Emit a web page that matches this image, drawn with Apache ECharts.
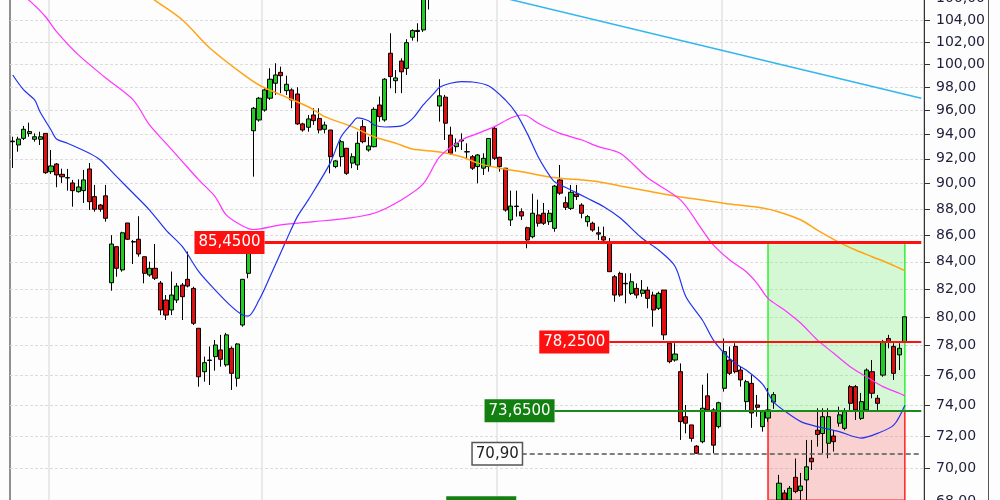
<!DOCTYPE html>
<html><head><meta charset="utf-8">
<script src="https://cdn.jsdelivr.net/npm/echarts@6/dist/echarts.min.js"></script>
<style>html,body{margin:0;padding:0;background:#fff}#c{width:1000px;height:500px}</style>
</head><body><div id="c"></div>
<script>
// Daily candles: [open, high, low, close]
const ohlc = [
[93.45,93.81,91.26,93.40],[93.13,93.81,92.58,93.62],[93.68,94.71,93.54,94.43],[94.08,94.98,93.81,94.24],
[93.60,94.09,93.40,93.81],[93.60,94.23,93.13,93.81],[94.09,94.09,90.78,90.88],[90.96,92.72,90.78,91.42],
[91.58,91.66,89.72,90.70],[90.75,91.20,90.06,90.55],[90.48,91.18,89.45,90.46],[90.06,90.30,88.19,89.45],
[89.37,90.35,89.29,89.74],[89.45,91.10,88.48,90.30],[91.18,91.66,87.93,88.58],[88.98,89.90,87.80,87.99],
[88.32,88.40,87.80,87.99],[89.04,89.90,87.03,87.29],[82.46,86.00,81.88,85.33],[85.13,85.13,82.90,83.52],
[83.40,86.26,83.27,86.18],[86.93,86.93,85.63,85.69],[85.51,85.63,83.84,85.48],[85.69,87.45,84.38,84.58],
[84.38,84.38,82.42,83.15],[83.03,84.01,82.90,83.52],[83.52,85.33,82.66,82.79],[82.44,82.59,80.14,80.50],
[81.21,81.57,79.79,80.14],[80.50,83.28,80.14,81.57],[81.21,82.44,81.00,82.22],[82.29,82.44,79.79,81.45],
[82.71,84.76,82.12,82.22],[82.05,82.17,79.44,79.56],[79.21,79.21,75.23,75.89],[76.23,77.25,75.56,76.84],
[77.02,77.95,75.34,76.99],[77.25,78.40,76.30,78.05],[77.71,78.75,76.57,77.07],[76.69,78.89,76.57,78.75],
[77.82,77.95,75.01,76.12],[75.79,78.17,75.23,78.12],[79.44,82.73,79.32,82.71],[83.15,86.24,82.79,84.64],
[94.31,96.31,90.56,96.20],[95.21,97.17,95.07,97.06],[96.05,97.91,95.91,97.77],[97.06,99.66,96.91,98.70],
[98.35,100.10,97.34,99.07],[99.30,99.80,97.49,99.01],[97.71,99.01,97.34,98.26],[97.77,97.91,96.20,96.91],
[97.42,98.00,94.80,94.88],[94.88,94.98,94.23,94.37],[94.60,95.63,94.23,95.30],[95.63,96.20,94.80,95.15],
[95.34,96.20,94.09,94.37],[94.43,95.07,94.09,94.79],[94.37,94.37,90.83,92.17],[91.37,91.90,91.24,91.83],
[92.17,93.54,91.37,93.40],[92.86,92.86,90.70,90.83],[91.65,92.45,91.24,92.17],[91.51,94.23,91.10,93.27],
[94.65,95.21,93.27,93.40],[92.72,93.81,92.58,93.05],[92.99,96.28,92.94,96.11],[96.48,97.20,95.07,95.49],
[95.21,98.79,95.07,98.70],[100.99,102.79,97.91,98.93],[98.57,99.50,97.49,98.81],[100.30,100.54,97.49,99.35],
[99.65,102.25,99.07,101.94],[102.43,103.15,102.12,103.03],[103.05,103.70,102.03,102.95],[103.09,106.30,102.90,106.00],
[106.20,108.50,104.97,108.00],[107.80,108.60,106.20,106.50],[96.39,98.70,95.07,97.26],[97.15,97.34,93.54,94.94],
[93.95,94.65,92.31,92.45],[92.99,93.67,92.58,93.27],[93.54,94.09,92.72,93.46],[92.58,93.27,92.04,92.56],
[92.17,92.31,91.10,91.24],[91.37,92.39,90.03,92.31],[91.24,92.45,90.70,92.04],[91.37,93.67,90.96,93.67],
[94.51,94.71,91.90,92.04],[92.12,92.17,90.96,91.37],[91.24,91.24,87.80,87.93],[87.16,89.45,86.70,88.24],
[88.24,89.45,87.42,88.20],[87.80,88.06,87.16,87.47],[86.57,86.65,85.01,85.63],[85.88,89.21,85.76,87.68],
[87.55,88.74,86.65,86.91],[87.68,88.48,86.78,86.91],[87.03,87.93,86.78,87.68],[86.52,89.90,86.26,89.81],
[90.30,91.50,89.12,89.25],[88.50,88.98,87.93,88.14],[88.06,89.90,87.93,89.32],[89.17,89.90,88.72,88.98],
[88.32,88.46,87.29,87.68],[87.03,87.55,86.65,87.42],[86.91,87.03,86.26,86.39],[86.18,86.65,85.63,86.08],
[85.88,86.65,85.40,85.63],[85.51,85.79,83.27,83.27],[82.90,83.03,81.09,81.57],[83.15,83.27,81.45,81.57],
[82.42,83.15,80.97,82.38],[81.69,83.15,81.57,82.53],[82.05,82.42,81.33,81.57],[81.69,82.66,81.45,81.93],
[81.93,82.17,80.62,81.33],[81.57,81.81,79.32,80.50],[80.62,81.81,80.50,81.69],[81.93,81.93,78.40,78.75],
[78.17,78.28,76.80,76.91],[77.02,78.17,76.91,77.43],[76.23,76.79,71.77,72.94],[73.26,74.02,72.19,72.84],
[72.73,72.73,71.66,71.87],[71.38,71.44,70.89,70.93],[71.66,75.36,71.56,73.81],[74.62,76.12,73.59,73.70],
[73.70,73.81,70.93,71.44],[72.62,74.24,72.51,74.17],[75.12,78.50,74.90,77.59],[77.02,77.95,76.00,76.12],
[77.95,78.17,76.12,76.23],[76.34,76.57,75.23,75.68],[74.24,75.68,73.70,75.56],[75.45,76.00,72.54,73.50],
[74.02,74.68,73.26,73.87],[72.62,73.70,72.30,73.59],[73.17,75.14,72.94,73.70],[74.21,74.87,73.77,74.70],
[68.06,69.59,67.77,69.08],[68.49,68.67,67.50,68.06],[68.06,68.91,67.77,68.77],[69.44,70.60,68.47,68.57],
[68.63,69.71,68.06,68.91],[69.28,71.77,68.06,70.09],[70.62,71.77,69.89,70.40],[72.39,73.81,71.35,72.12],
[72.18,73.81,70.93,73.26],[71.56,73.81,70.62,73.26],[72.02,72.39,71.04,71.66],[72.84,73.91,72.62,73.38],
[72.51,73.81,72.39,73.59],[75.23,75.34,73.70,74.13],[75.23,75.34,73.05,73.70],[73.15,74.81,73.05,74.24],
[73.70,76.45,73.59,76.34],[76.23,77.02,74.46,74.79],[74.46,74.68,73.70,74.13],[76.00,78.40,75.89,78.28],
[78.50,78.75,77.82,78.28],[77.95,78.17,75.68,76.12],[77.37,78.17,76.34,77.82],[78.28,80.02,78.28,80.02]
];
const emptySlots = 3;

// Moving averages: [candle index, value]
const maBlue = [[0,99.07],[2,97.77],[4,96.91],[5,95.88],[7,94.37],[8,93.62],[10,93.27],[14,92.45],[16,91.90],[19,90.56],
[22,89.24],[25,87.93],[28,86.39],[31,85.13],[34,83.27],[37,81.93],[40,80.74],[42,80.14],[43,80.07],[45,81.21],[47,82.90],
[50,85.63],[52,87.42],[54,88.72],[58,91.65],[60,93.81],[62,94.94],[63,95.38],[65,95.14],[66,94.79],[68,94.62],[71,94.71],
[73,95.30],[75,96.48],[77,97.49],[78,98.00],[80,98.35],[82,98.49],[84,98.46],[87,98.11],[90,96.91],[92,95.77],[94,94.09],
[96,92.17],[98,90.70],[99,90.16],[102,89.50],[105,88.85],[108,88.19],[111,87.31],[115,85.76],[118,84.88],[121,83.67],
[123,81.45],[126,79.79],[128,78.40],[130,77.48],[132,76.80],[134,76.34],[137,75.40],[139,74.22],[141,73.64],[144,72.94],
[147,72.62],[151,72.30],[155,71.89],[158,72.19],[161,72.73],[163,74.00]];
const maMagenta = [[0,107.10],[3,105.82],[6,104.30],[8,102.94],[12,100.84],[17,98.81],[22,96.91],[25,94.79],[28,93.27],
[31,91.77],[34,90.30],[37,88.96],[39,87.55],[42,86.70],[44,86.43],[49,86.78],[55,87.03],[61,87.29],[66,87.68],[71,88.72],
[75,89.98],[78,92.15],[82,93.54],[85,94.09],[88,94.65],[91,95.38],[93,95.63],[94,95.55],[96,94.94],[100,94.09],[104,93.54],
[107,92.99],[111,92.45],[116,90.47],[122,88.72],[126,86.39],[128,85.26],[131,84.13],[134,83.27],[136,82.42],[138,81.33],
[141,80.50],[144,79.56],[147,78.40],[150,77.48],[153,76.57],[156,75.89],[159,75.23],[162,74.79],[163,74.62]];
const maOrange = [[23,107.00],[26,105.82],[31,104.00],[36,101.46],[42,99.16],[45,98.20],[49,97.34],[54,96.33],[57,95.49],
[62,94.65],[66,93.81],[70,93.27],[73,92.80],[78,92.56],[82,92.17],[85,91.65],[89,91.24],[93,90.96],[96,90.70],[100,90.43],
[104,90.30],[107,90.16],[111,89.82],[116,89.42],[122,88.95],[126,88.72],[131,88.40],[137,88.09],[140,87.78],[144,87.16],
[147,86.39],[151,85.46],[154,84.88],[157,84.38],[160,83.89],[163,83.35]];
const trendLine = [[80,107.25],[166,97.06]];

// Drawn levels
const target = 85.45, resistance = 78.25, entry = 73.65, support = 70.90, lowLevel = 67.60, stop = 68.05;
const levelStart = {target: 46, resistance: 109, entry: 99, support: 93, lowLevel: 92};
const zoneStart = 138, zoneEnd = 163;
const yTicks = [66,68,70,72,74,76,78,80,82,84,86,88,90,92,94,96,98,100,102,104,106,108];
const yMin = 65.70, yMax = 109.66;
const gridStarts = [7, 46, 89, 130];

const L = Math.log;
const nSlots = ohlc.length + emptySlots;
const last = nSlots - 1;
const categories = Array.from({length: nSlots}, (_, i) => String(i + 1));
const candleData = ohlc.map(r => [L(r[0]), L(r[3]), L(r[2]), L(r[1])]);
const toLog = arr => arr.map(p => [p[0], L(p[1])]);
const fmt4 = v => v.toFixed(4).replace('.', ',');
const font = 'DejaVu Sans';

function level(val, startIdx, lineStyle, label) {
  return [
    {coord: [startIdx, L(val)], lineStyle: lineStyle,
     label: Object.assign({show: true, position: 'start', distance: 0, fontFamily: font, fontSize: 15,
       padding: [4, 4, 3, 4], lineHeight: 16}, label)},
    {coord: [last, L(val)]}
  ];
}

const chart = echarts.init(document.getElementById('c'), null, {renderer: 'canvas'});
chart.setOption({
  animation: false,
  backgroundColor: '#fdfdfd',
  grid: {left: 10, right: 76, top: -40, bottom: -40, outerBoundsMode: 'none', containLabel: false,
    show: true, borderColor: '#222', borderWidth: 1, backgroundColor: '#fcfdfc'},
  xAxis: {
    type: 'category', data: categories, boundaryGap: true,
    axisLine: {show: false}, axisTick: {show: false}, axisLabel: {show: false},
    splitLine: {show: true, interval: (i) => gridStarts.includes(i), lineStyle: {color: '#e2e2e2', width: 1.5}}
  },
  yAxis: {
    type: 'value', position: 'right', min: L(yMin), max: L(yMax),
    axisLine: {show: true, lineStyle: {color: '#333', width: 1}},
    axisTick: {show: true, customValues: yTicks.map(L), length: 6, lineStyle: {color: '#333'}},
    axisLabel: {customValues: yTicks.map(L), formatter: v => Math.exp(v).toFixed(2).replace('.', ','),
      color: '#1e1e3c', fontFamily: font, fontSize: 14, margin: 12},
    splitLine: {show: true, lineStyle: {color: '#dcdcdc', type: [3, 2]}}
  },
  graphic: [{type: 'line', shape: {x1: 988.5, y1: 0, x2: 988.5, y2: 500}, style: {stroke: '#555', lineWidth: 1}, silent: true}],
  series: [
    {
      type: 'line', data: [], z: 1, silent: true,
      markArea: {silent: true, data: [
        [{coord: [zoneStart, L(target)], itemStyle: {color: 'rgba(120,240,120,0.30)', borderColor: '#33ee33', borderWidth: 1.5}},
         {coord: [zoneEnd, L(entry)]}],
        [{coord: [zoneStart, L(entry)], itemStyle: {color: 'rgba(245,110,110,0.30)', borderColor: '#ff2020', borderWidth: 1.5}},
         {coord: [zoneEnd, L(stop)]}]
      ]}
    },
    {
      type: 'candlestick', data: candleData, z: 3, barWidth: 4.6,
      itemStyle: {color: '#22cc22', color0: '#e01010', borderColor: '#000', borderColor0: '#000', borderWidth: 1},
      markLine: {
        silent: true, symbol: ['none', 'none'], animation: false,
        data: [
          level(target, levelStart.target, {color: '#ff1010', width: 3, type: 'solid'},
            {formatter: fmt4(target), backgroundColor: '#ff1010', color: '#fff'}),
          level(resistance, levelStart.resistance, {color: '#ff1010', width: 2, type: 'solid'},
            {formatter: fmt4(resistance), backgroundColor: '#ff1010', color: '#fff'}),
          level(entry, levelStart.entry, {color: '#1a8a1a', width: 2, type: 'solid'},
            {formatter: fmt4(entry), backgroundColor: '#118011', color: '#fff'}),
          level(support, levelStart.support, {color: '#555', width: 1.5, type: [5, 3]},
            {formatter: support.toFixed(2).replace('.', ','), backgroundColor: '#fff', color: '#222',
             borderColor: '#555', borderWidth: 1.5, padding: [3, 3, 2, 3]}),
          level(lowLevel, levelStart.lowLevel, {color: '#118011', width: 2, type: 'solid'},
            {formatter: fmt4(lowLevel), backgroundColor: '#118011', color: '#fff'})
        ]
      }
    },
    {type: 'line', data: toLog(maOrange), z: 4, showSymbol: false, smooth: 0.3, silent: true,
     lineStyle: {color: '#ffa414', width: 1.5}},
    {type: 'line', data: toLog(maMagenta), z: 4, showSymbol: false, smooth: 0.3, silent: true,
     lineStyle: {color: '#ff33ff', width: 1.2}},
    {type: 'line', data: toLog(maBlue), z: 4, showSymbol: false, smooth: 0.3, silent: true,
     lineStyle: {color: '#2233ee', width: 1.2}},
    {type: 'line', data: toLog(trendLine), z: 4, showSymbol: false, silent: true,
     lineStyle: {color: '#33b5ee', width: 1.5}}
  ]
});
</script>
</body></html>
